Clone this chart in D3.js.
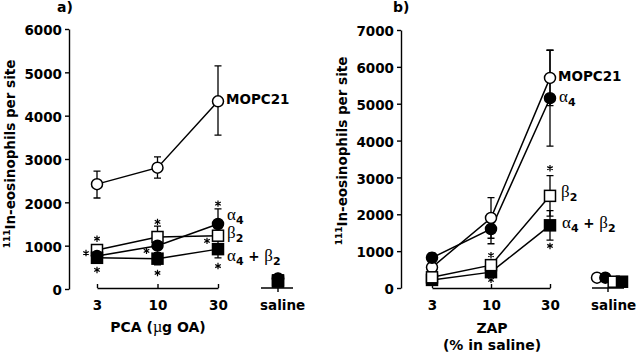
<!DOCTYPE html>
<html><head><meta charset="utf-8">
<script src="https://cdn.jsdelivr.net/npm/d3@7"></script>
<style>
body{margin:0;background:#fff}
svg{display:block}
text{font-family:"DejaVu Sans",sans-serif;font-weight:bold;fill:#000}
</style>
</head><body>
<svg id="c" width="640" height="355"></svg>
<script>
// ---------- DATA ----------
const doses = ["3", "10", "30"];
const seriesNames = ["MOPC21", "α4", "β2", "α4+β2"];

// Panel a) PCA (µg OA)
const pcaTicks = [0, 1000, 2000, 3000, 4000, 5000, 6000];
const pcaMOPC21 = [2420, 2800, 4330];
const pcaA4     = [760, 1000, 1500];
const pcaB2     = [900, 1200, 1230];
const pcaA4B2   = [720, 700, 920];
const pcaMOPC21Err = [[2100, 2720], [2560, 3050], [3550, 5150]];
const pcaA4Err     = [null, null, [1150, 1850]];
const pcaB2Err     = [null, [950, 1450], null];
const pcaA4B2Err   = [null, [560, 840], [720, 1120]];
const pcaSaline    = [230, 240, 200, 170];   // MOPC21, α4, β2, α4+β2
// significance stars: [dose, value, side]
const pcaStars = [["3",1160,"c"],["3",830,"l"],["3",440,"c"],
                  ["10",1550,"c"],["10",880,"l"],["10",370,"c"],
                  ["30",1970,"c"],["30",1110,"l"],["30",530,"c"]];

// Panel b) ZAP (% in saline)
const zapTicks = [0, 1000, 2000, 3000, 4000, 5000, 6000, 7000];
const zapMOPC21 = [560, 1900, 5700];
const zapA4     = [820, 1600, 5150];
const zapB2     = [290, 620, 2500];
const zapA4B2   = [220, 430, 1700];
const zapMOPC21Err = [null, [1350, 2450], [4950, 6450]];
const zapA4Err     = [[700, 950], [1200, 2000], [3850, 6450]];
const zapB2Err     = [null, null, [1950, 3050]];
const zapA4B2Err   = [null, null, [1300, 2100]];
const zapSaline    = [280, 280, 170, 170];
const zapStars = [["10",890,"c"],["10",220,"c"],["30",3250,"c"],["30",1140,"c"]];

// ---------- STYLE ----------
const styles = {
  "MOPC21": {shape: "circle", fill: "#fff"},
  "α4":     {shape: "circle", fill: "#000"},
  "β2":     {shape: "square", fill: "#fff"},
  "α4+β2":  {shape: "square", fill: "#000"}
};

const svg = d3.select("#c");

function starPath(cx, cy, r) {
  let d = "";
  for (let k = 0; k < 3; k++) {
    const a = Math.PI / 2 + k * Math.PI / 3;
    const dx = r * Math.cos(a), dy = r * Math.sin(a);
    d += `M${cx - dx},${cy - dy}L${cx + dx},${cy + dy}`;
  }
  return d;
}

function drawPanel(cfg) {
  const g = svg.append("g");
  const x = d3.scalePoint().domain(doses).range(cfg.xr);
  const y = d3.scaleLinear().domain([0, cfg.ymax]).range([cfg.y0, cfg.ytop]);

  // Y axis
  const ya = g.append("g").attr("transform", `translate(${cfg.ax},0)`)
    .call(d3.axisLeft(y).tickValues(cfg.yticks).tickSize(4).tickSizeOuter(0).tickPadding(3).tickFormat(d3.format("d")));
  ya.select(".domain").attr("stroke-width", 1.4);
  ya.selectAll(".tick line").attr("stroke-width", 1.4);
  ya.selectAll("text").attr("font-size", 13.5).attr("dy", "0.42em")
    .attr("font-family", "DejaVu Sans").attr("font-weight", "bold");

  // X axis
  const xa = g.append("g").attr("transform", `translate(0,${cfg.xAxisY})`)
    .call(d3.axisBottom(x).tickSize(-4).tickSizeOuter(0).tickPadding(12));
  xa.select(".domain").attr("stroke-width", 1.4);
  xa.selectAll(".tick line").attr("stroke-width", 1.4);
  xa.selectAll("text").attr("font-size", 13.5)
    .attr("font-family", "DejaVu Sans").attr("font-weight", "bold");

  // Saline mini axis
  g.append("path").attr("d", `M${cfg.salLine[0]},${cfg.xAxisY}H${cfg.salLine[1]}M${cfg.salTick},${cfg.xAxisY}v4`)
    .attr("stroke", "#000").attr("stroke-width", 1.4).attr("fill", "none");
  g.append("text").attr("x", cfg.salLine[0] - 1).attr("y", cfg.xAxisY + 22)
    .attr("font-size", 13.5).text("saline");

  const line = d3.line().x((d, i) => x(doses[i])).y(d => y(d));
  cfg.series.forEach(s => {
    g.append("path").datum(s.values).attr("d", line)
      .attr("fill", "none").attr("stroke", "#000").attr("stroke-width", 1.5);
  });
  cfg.series.forEach(s => {
    s.err.forEach((e, i) => {
      if (!e) return;
      const cx = x(doses[i]);
      g.append("path")
        .attr("d", `M${cx},${y(e[0])}V${y(e[1])}M${cx-3.5},${y(e[0])}h7M${cx-3.5},${y(e[1])}h7`)
        .attr("stroke", "#000").attr("stroke-width", 1.3).attr("fill", "none");
    });
  });
  function marker(sel, name, cx, cy) {
    const st = styles[name];
    if (st.shape === "circle") {
      sel.append("circle").attr("cx", cx).attr("cy", cy).attr("r", 5.5)
        .attr("fill", st.fill).attr("stroke", "#000").attr("stroke-width", 1.5);
    } else {
      sel.append("rect").attr("x", cx - 5.5).attr("y", cy - 5.5).attr("width", 11).attr("height", 11)
        .attr("fill", st.fill).attr("stroke", "#000").attr("stroke-width", 1.5);
    }
  }
  cfg.series.forEach(s => s.values.forEach((v, i) => marker(g, s.name, x(doses[i]), y(v))));

  const xs = d3.scalePoint().domain(seriesNames).range(cfg.salX);
  cfg.salineOrder.forEach(k => marker(g, seriesNames[k], xs(seriesNames[k]), y(cfg.saline[k])));

  // stars
  cfg.stars.forEach(([d, v, side]) => {
    const cx = x(d) + (side === "l" ? cfg.leftOff : 0);
    g.append("path").attr("d", starPath(cx, y(v), 3.2))
      .attr("stroke", "#000").attr("stroke-width", 1.2).attr("fill", "none");
  });

  // y title
  const yt = g.append("text").attr("transform", `translate(${cfg.titleX},${cfg.titleY}) rotate(-90)`)
    .attr("text-anchor", "middle").attr("font-size", 13.5);
  yt.append("tspan").attr("font-size", 9).attr("dy", -5).text("111");
  yt.append("tspan").attr("dy", 5).text("In-eosinophils per site");

  g.append("text").attr("x", cfg.letterX).attr("y", 12).attr("font-size", 14).text(cfg.letter);

  cfg.labels.forEach(l => {
    const t = g.append("text").attr("x", l.x).attr("y", l.y).attr("font-size", 13.5);
    l.parts.forEach(p => {
      const ts = t.append("tspan").text(p.t);
      if (p.greek) ts.attr("font-family", "Liberation Serif").attr("font-weight", "normal").attr("font-size", 17);
      if (p.sub) ts.attr("font-size", 11).attr("dy", 4);
      if (p.up) ts.attr("dy", -4);
    });
  });
  return {x, y, g};
}

function lab(kind) {
  if (kind === "MOPC21") return [{t: "MOPC21"}];
  if (kind === "α4") return [{t: "α", greek: 1}, {t: "4", sub: 1}];
  if (kind === "β2") return [{t: "β", greek: 1}, {t: "2", sub: 1}];
  return [{t: "α", greek: 1}, {t: "4", sub: 1}, {t: " + ", up: 1}, {t: "β", greek: 1}, {t: "2", sub: 1}];
}

drawPanel({
  xr: [97, 218], y0: 289, ytop: 29, ymax: 6000, ax: 69, xAxisY: 288,
  yticks: pcaTicks,
  salLine: [261, 293], salTick: 278, salX: [278, 278], saline: pcaSaline, salineOrder: [0, 2, 1, 3],
  series: [
    {name: "MOPC21", values: pcaMOPC21, err: pcaMOPC21Err},
    {name: "β2", values: pcaB2, err: pcaB2Err},
    {name: "α4", values: pcaA4, err: pcaA4Err},
    {name: "α4+β2", values: pcaA4B2, err: pcaA4B2Err}
  ],
  stars: pcaStars, leftOff: -11,
  titleX: 15, titleY: 154, letter: "a)", letterX: 57,
  labels: [
    {x: 226, y: 104, parts: lab("MOPC21")},
    {x: 227, y: 220, parts: lab("α4")},
    {x: 227, y: 238, parts: lab("β2")},
    {x: 227, y: 261, parts: lab("α4+β2")}
  ]
});

const ta = svg.append("text").attr("x", 158).attr("y", 332).attr("text-anchor", "middle").attr("font-size", 14);
ta.append("tspan").text("PCA (");
ta.append("tspan").attr("font-family", "Liberation Serif").attr("font-weight", "normal").attr("font-size", 16).text("µ");
ta.append("tspan").text("g OA)");

drawPanel({
  xr: [432, 550], y0: 288, ytop: 30, ymax: 7000, ax: 401, xAxisY: 288,
  yticks: zapTicks,
  salLine: [592, 624], salTick: 608, salX: [597, 622], saline: zapSaline, salineOrder: [0, 1, 2, 3],
  series: [
    {name: "MOPC21", values: zapMOPC21, err: zapMOPC21Err},
    {name: "α4", values: zapA4, err: zapA4Err},
    {name: "α4+β2", values: zapA4B2, err: zapA4B2Err},
    {name: "β2", values: zapB2, err: zapB2Err}
  ],
  stars: zapStars, leftOff: 0,
  titleX: 347, titleY: 151, letter: "b)", letterX: 393,
  labels: [
    {x: 558, y: 81, parts: lab("MOPC21")},
    {x: 559, y: 102, parts: lab("α4")},
    {x: 561, y: 197, parts: lab("β2")},
    {x: 562, y: 228, parts: lab("α4+β2")}
  ]
});

svg.append("text").attr("x", 492).attr("y", 333).attr("text-anchor", "middle").attr("font-size", 14).text("ZAP");
svg.append("text").attr("x", 492).attr("y", 350).attr("text-anchor", "middle").attr("font-size", 14).text("(% in saline)");
</script>
</body></html>
